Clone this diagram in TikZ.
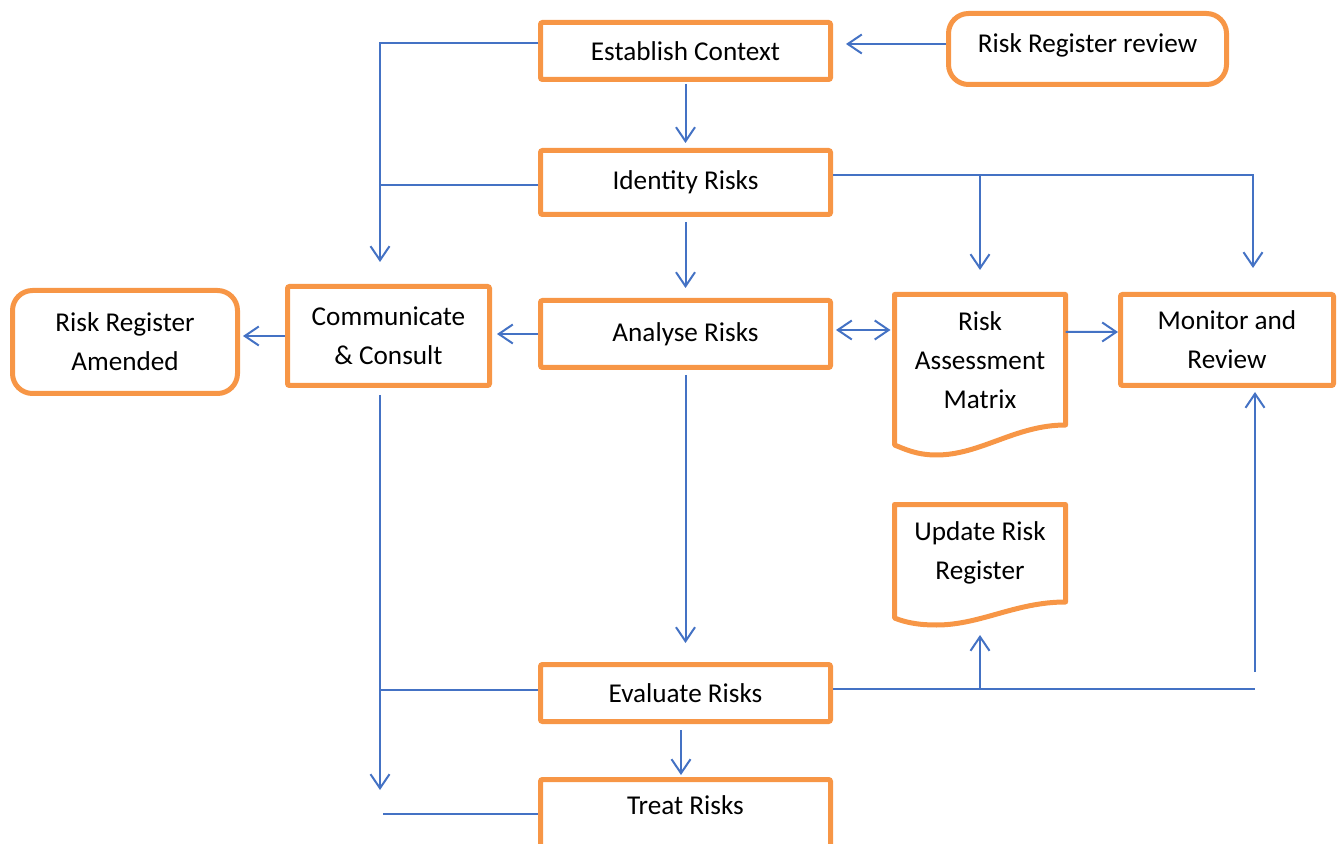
\documentclass[tikz,border=0pt]{standalone}
\usepackage{fontspec}
\setmainfont{Carlito}
\usepackage{tikz}
\usetikzlibrary{arrows.meta,positioning}

\definecolor{boxorange}{RGB}{247,150,70}
\definecolor{lineblue}{RGB}{68,114,196}

\begin{document}
\begin{tikzpicture}[x=0.5pt, y=-0.5pt, >={Straight Barb[length=7pt,width=9.5pt]}]
	\tikzstyle{every node} = [font=\fontsize{13.6}{19.5}\selectfont, align=center, inner sep=0pt]
	\tikzstyle{box} = [rectangle, draw=boxorange, line width=2.5pt, rounded corners=1pt]
	\tikzstyle{rbox} = [rectangle, draw=boxorange, line width=2.5pt, rounded corners=10pt]
	\tikzstyle{doc} = [rectangle, outer sep=0pt, minimum width=85.5pt]
	\tikzstyle{docline} = [draw=boxorange, line width=2.5pt, line join=round]
	\tikzstyle{arr} = [draw=lineblue, line width=1pt, ->]
	\tikzstyle{link} = [draw=lineblue, line width=1pt]

\useasboundingbox (0,0) rectangle (1338,844);
\clip (0,0) rectangle (1338,844);

\node[box, minimum width=145pt, minimum height=28.5pt] (0) at (685.5, 51) {Establish Context};
\node[rbox, minimum width=139pt, minimum height=35.5pt, text depth=5.5pt] (1) at (1087.5, 49) {Risk Register review};
\node[box, minimum width=145pt, minimum height=32pt] (2) at (685.5, 182.5) {Identity Risks};
\node[box, minimum width=101pt, minimum height=49.5pt] (3) at (388.5, 336) {Communicate\\\& Consult};
\node[rbox, minimum width=112.5pt, minimum height=51.5pt] (4) at (125, 342) {Risk Register\\Amended};
\node[box, minimum width=145pt, minimum height=33.5pt] (5) at (685.5, 334) {Analyse Risks};
\node[doc, minimum height=65.25pt] (6) at (980, 359.75) {Risk\\Assessment\\Matrix};
\node[box, minimum width=106.5pt, minimum height=45.5pt] (7) at (1227, 340) {Monitor and\\Review};
\node[doc, minimum height=48.75pt] (8) at (980, 553.25) {Update Risk\\Register};
\node[box, minimum width=145pt, minimum height=28.5pt] (9) at (685.5, 693) {Evaluate Risks};
\node[box, minimum width=145pt, text height=17.5pt, text depth=25pt, anchor=north] (10) at (685.5, 777) {Treat Risks};

	% document shapes
	\path[docline] (6.north west) -- (6.north east) -- (6.south east)
		.. controls +(-25pt,0) and +(22pt,0) .. ([xshift=21pt,yshift=-15pt]6.south west)
		.. controls +(-10pt,0) and +(5pt,-2pt) .. ([yshift=-10pt]6.south west) -- cycle;
	\path[docline] (8.north west) -- (8.north east) -- (8.south east)
		.. controls +(-25pt,0) and +(22pt,0) .. ([xshift=21pt,yshift=-11.5pt]8.south west)
		.. controls +(-10pt,0) and +(5pt,-2pt) .. ([yshift=-8pt]8.south west) -- cycle;

\coordinate (11) at (980, 175.5);
\coordinate (12) at (380, 790);
\coordinate (13) at (383, 813.5);
\coordinate (14) at (980, 689);
\coordinate (15) at (1255, 689);
\coordinate (16) at (1255, 672);

	\path[arr, shorten >=6.5pt] ([yshift=2.5pt]1.west) -- ([yshift=3.5pt]0.east);
	\path[arr, shorten <=1pt, shorten >=2.5pt] (0.south) -- (2.north);
	\path[arr, shorten >=11pt] ([yshift=4pt]0.west) -| ([xshift=-4.25pt]3.north);
	\path[link] ([yshift=-1.25pt]2.west) -- ++(-79pt,0);
	\path[arr, shorten <=2.5pt, shorten >=5pt] (2.south) -- (5.north);
	\path[arr, shorten >=12pt] ([yshift=3.5pt]2.east) -| ([xshift=13pt]7.north);
	\path[arr, shorten >=12.25pt] (11) -- (6.north);
	\path[arr, shorten >=2.5pt] (5.west) -- (5.west -| 3.east);
	\path[arr, shorten >=1.5pt] (3.west) -- (3.west -| 4.east);
	\path[arr, <->, shorten <=1.5pt, shorten >=2pt] ([yshift=2pt]5.east) -- ([yshift=14.875pt]6.west);
	\path[arr] ([yshift=13.9pt]6.east) -- ([yshift=4pt]7.west);
	\path[arr, shorten <=2.5pt, shorten >=9.5pt] (5.south) -- (9.north);
	\path[arr, shorten <=3.5pt] ([xshift=-4.25pt]3.south) -- (12);
	\path[link] ([yshift=1.5pt]9.west) -- ++(-79pt,0);
	\path[link] (13) -- (13 -| 10.west);
	\path[link] ([yshift=2pt]9.east) -- (15);
	\path[arr, shorten >=16.5pt] (14) -- (8.south);
	\path[arr, shorten >=2pt] (16) -- ([xshift=14pt]7.south);
	\path[arr, shorten <=3pt, shorten >=1pt] ([xshift=-2.25pt]9.south) -- ([xshift=-2.25pt]10.north);
	\end{tikzpicture}
\end{document}
